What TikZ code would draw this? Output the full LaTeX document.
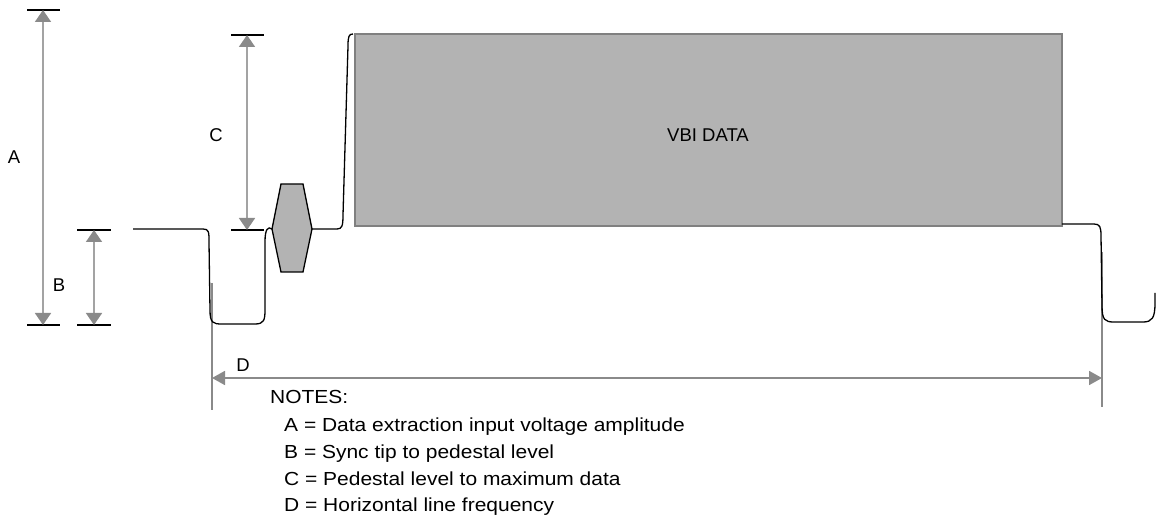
\documentclass[tikz,border=0pt]{standalone}
\usepackage{fontspec}
\setmainfont{Liberation Sans}
\newfontfamily\notefont{Liberation Sans}[FakeStretch=1.11]
\usetikzlibrary{arrows.meta}
\definecolor{dimgray}{HTML}{8A8A8A}
\definecolor{dimline}{HTML}{A3A3A3}
\definecolor{datafill}{HTML}{B3B3B3}
\definecolor{databorder}{HTML}{808080}
\begin{document}
\begin{tikzpicture}[
  x=1pt,y=-1pt,
  tick/.style={line width=2pt,black},
  dimv/.style={{Triangle[length=12pt,width=16pt,color=dimgray]}-{Triangle[length=12pt,width=16pt,color=dimgray]},
               color=dimline,line width=1.6pt},
  dimh/.style={{Triangle[length=13pt,width=14pt]}-{Triangle[length=13pt,width=14pt]},
               color=dimgray,line width=1.8pt},
  guide/.style={color=dimgray,line width=1.5pt},
  sig/.style={black,line width=1.3pt},
  lbl/.style={inner sep=0pt,font=\fontsize{18.5}{20}\selectfont},
  note/.style={inner sep=0pt,anchor=base west,font=\notefont\fontsize{18.9}{22}\selectfont}
]
\useasboundingbox (0,0) rectangle (1156,518);
% dimension end points
\coordinate (Atop) at (43,10);   \coordinate (Abot) at (43,325);
\coordinate (Btop) at (94,230);  \coordinate (Bbot) at (94,325);
\coordinate (Ctop) at (247,35);  \coordinate (Cbot) at (247,230);
\coordinate (Dl) at (212,378);   \coordinate (Dr) at (1102,378);
% ticks
\draw[tick] (27,10) -- (60,10);   \draw[tick] (27,325) -- (60,325);
\draw[tick] (77,230) -- (111,230); \draw[tick] (77,325) -- (111,325);
\draw[tick] (231,35) -- (264,35);  \draw[tick] (231,230) -- (264,230);
% guides for D
\draw[guide] (212,283) -- (212,410);
\draw[guide] (1102,252) -- (1102,407);
% dimension arrows
\draw[dimv] (Atop) -- (Abot);
\draw[dimv] (Btop) -- (Bbot);
\draw[dimv] (Ctop) -- (Cbot);
\draw[dimh] (Dl) -- (Dr);
% VBI data block
\draw[fill=datafill,draw=databorder,line width=1.3pt] (355,34) rectangle (1062,226);
\node[lbl] (vbi) at (708,135) {VBI DATA};
% clock run-in burst
\draw[sig,fill=datafill] (272,229) -- (281,184) -- (303,184) -- (312,229)
  -- (303,272) -- (281,272) -- cycle;
% waveform
\draw[sig] (133,229) -- (203,229) .. controls (209,229) and (209,232) .. (209,242)
  -- (210,310) .. controls (210,323) and (213,324) .. (222,324) -- (255,324)
  .. controls (264,324) and (265,320) .. (265,310) -- (265,242)
  .. controls (265,229) and (268,226) .. (272,229);
\draw[sig] (312,229) -- (337,229) .. controls (342,229) and (343,226) .. (343,215)
  -- (348,46) .. controls (348,36) and (349,34) .. (353,34);
\draw[sig] (1062,224) -- (1094,224) .. controls (1100,224) and (1101,227) .. (1101,236)
  -- (1102,306) .. controls (1102,320) and (1105,322) .. (1114,322) -- (1143,322)
  .. controls (1152,322) and (1155,318) .. (1155,303) -- (1155,293);
% labels
\node[lbl] (labA) at (14,157) {A};
\node[lbl] (labB) at (59,285) {B};
\node[lbl] (labC) at (216,135) {C};
\node[lbl] (labD) at (243,365) {D};
% notes
\node[note] (notes) at (270,403) {NOTES:};
\node[note] (noteA) at (284,431) {A = Data extraction input voltage amplitude};
\node[note] (noteB) at (284,458) {B = Sync tip to pedestal level};
\node[note] (noteC) at (284,485) {C = Pedestal level to maximum data};
\node[note] (noteD) at (284,511) {D = Horizontal line frequency};
\end{tikzpicture}
\end{document}
